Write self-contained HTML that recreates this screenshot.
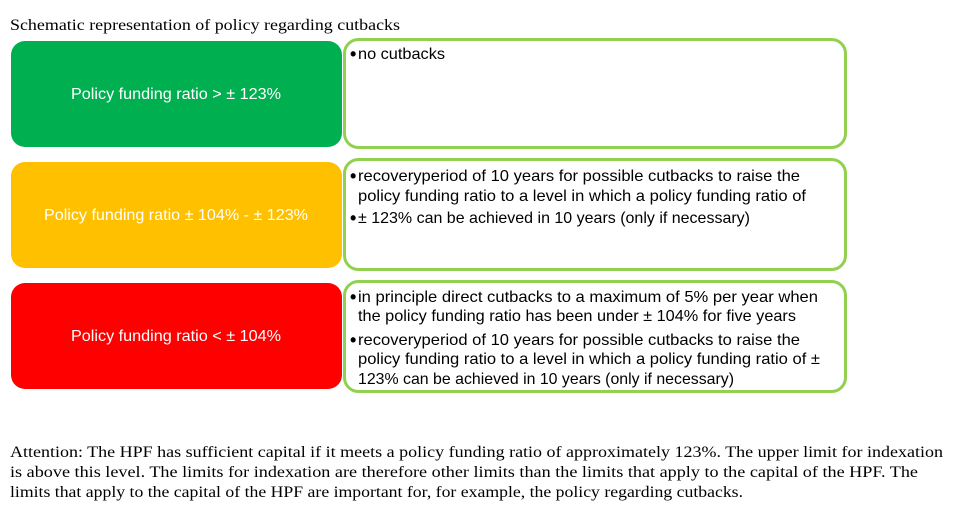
<!DOCTYPE html>
<html><head><meta charset="utf-8"><style>
html,body{margin:0;padding:0;background:#fff;width:960px;height:530px;overflow:hidden}
svg{display:block}
.s{font-family:"Liberation Sans",sans-serif;font-size:16px;fill:#000}
.b{font-family:"Liberation Sans",sans-serif;font-size:18px;font-weight:bold;fill:#000}
.w{font-family:"Liberation Sans",sans-serif;font-size:16px;fill:#fff}
.r{font-family:"Liberation Serif",serif;font-size:16px;fill:#000}
</style></head><body>
<svg width="960" height="530" viewBox="0 0 960 530">
<text class="r" x="10" y="30" textLength="390" lengthAdjust="spacingAndGlyphs">Schematic representation of policy regarding cutbacks</text>

<g>
<rect x="11" y="41" width="331" height="106" rx="14" fill="#00b050"/>
<text class="w" x="71" y="99" textLength="210" lengthAdjust="spacingAndGlyphs">Policy funding ratio &gt; ± 123%</text>
<rect x="344.5" y="39.5" width="501" height="108" rx="14" fill="#fff" stroke="#92d050" stroke-width="3"/>
<text class="b" x="350" y="60">•</text>
<text class="s" x="358" y="59" textLength="87" lengthAdjust="spacingAndGlyphs">no cutbacks</text>
</g>

<g>
<rect x="11" y="162" width="331" height="106" rx="14" fill="#ffc000"/>
<text class="w" x="44" y="220" textLength="264" lengthAdjust="spacingAndGlyphs">Policy funding ratio ± 104% - ± 123%</text>
<rect x="344.5" y="159.5" width="501" height="110" rx="14" fill="#fff" stroke="#92d050" stroke-width="3"/>
<text class="b" x="350" y="182">•</text>
<text class="s" x="358" y="181" textLength="442" lengthAdjust="spacingAndGlyphs">recoveryperiod of 10 years for possible cutbacks to raise the</text>
<text class="s" x="358" y="201" textLength="448" lengthAdjust="spacingAndGlyphs">policy funding ratio to a level in which a policy funding ratio of</text>
<text class="b" x="350" y="224">•</text>
<text class="s" x="358" y="223" textLength="392" lengthAdjust="spacingAndGlyphs">± 123% can be achieved in 10 years (only if necessary)</text>
</g>

<g>
<rect x="11" y="283" width="331" height="106" rx="14" fill="#ff0000"/>
<text class="w" x="71" y="341" textLength="210" lengthAdjust="spacingAndGlyphs">Policy funding ratio &lt; ± 104%</text>
<rect x="344.5" y="281.5" width="501" height="110" rx="14" fill="#fff" stroke="#92d050" stroke-width="3"/>
<text class="b" x="350" y="303">•</text>
<text class="s" x="358" y="302" textLength="460" lengthAdjust="spacingAndGlyphs">in principle direct cutbacks to a maximum of 5% per year when</text>
<text class="s" x="358" y="321" textLength="438" lengthAdjust="spacingAndGlyphs">the policy funding ratio has been under ± 104% for five years</text>
<text class="b" x="350" y="346">•</text>
<text class="s" x="358" y="345" textLength="442" lengthAdjust="spacingAndGlyphs">recoveryperiod of 10 years for possible cutbacks to raise the</text>
<text class="s" x="358" y="364" textLength="462" lengthAdjust="spacingAndGlyphs">policy funding ratio to a level in which a policy funding ratio of ±</text>
<text class="s" x="358" y="384" textLength="376" lengthAdjust="spacingAndGlyphs">123% can be achieved in 10 years (only if necessary)</text>
</g>

<g>
<text class="r" x="10" y="457" textLength="933" lengthAdjust="spacingAndGlyphs">Attention: The HPF has sufficient capital if it meets a policy funding ratio of approximately 123%. The upper limit for indexation</text>
<text class="r" x="10" y="477" textLength="908" lengthAdjust="spacingAndGlyphs">is above this level. The limits for indexation are therefore other limits than the limits that apply to the capital of the HPF. The</text>
<text class="r" x="10" y="497" textLength="733" lengthAdjust="spacingAndGlyphs">limits that apply to the capital of the HPF are important for, for example, the policy regarding cutbacks.</text>
</g>
</svg>
</body></html>
